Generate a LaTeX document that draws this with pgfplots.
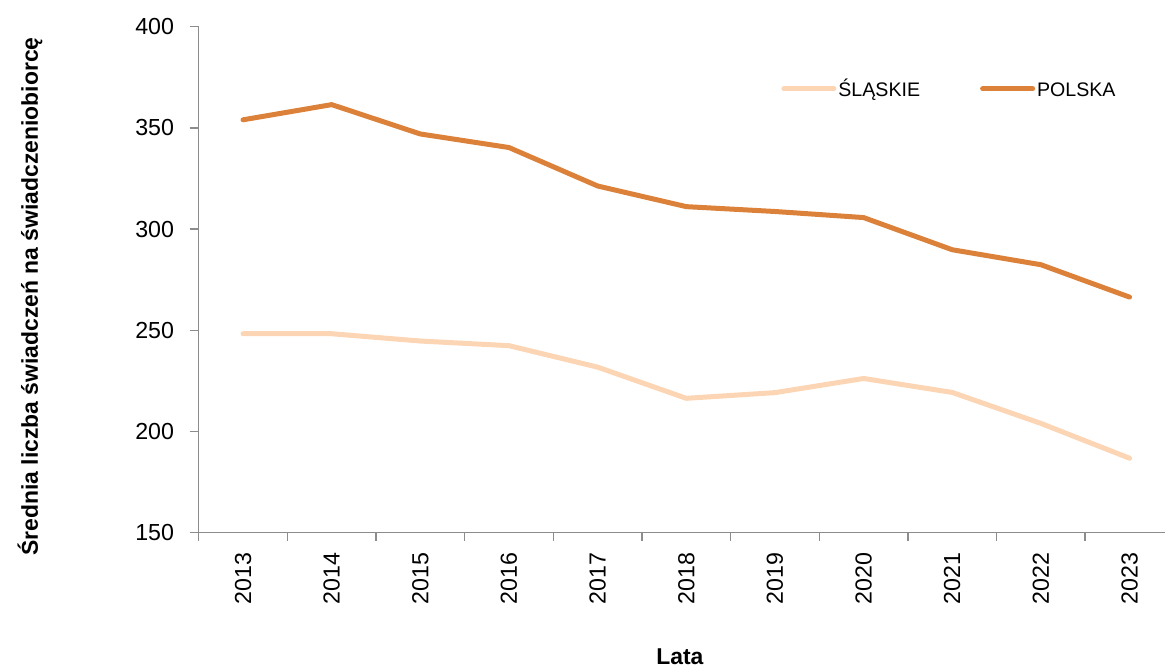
\documentclass[border=0pt]{standalone}
\usepackage{fontspec}
\setmainfont{Liberation Sans}
\usepackage{pgfplots}
\pgfplotsset{compat=1.18}
\definecolor{polska}{HTML}{DC8139}
\definecolor{slaskie}{HTML}{FCD5B4}
\definecolor{axisgray}{HTML}{8C8C8C}
\begin{document}
\begin{tikzpicture}
\useasboundingbox (0,0) rectangle (582.5pt,335pt);
\begin{axis}[
  at={(99.35pt,68.65pt)}, anchor=south west,
  scale only axis, width=483.15pt, height=253pt,
  xmin=-0.5, xmax=10.4, ymin=150, ymax=400,
  axis lines=left,
  axis line style={-, axisgray, line width=0.75pt},
  ytick={150,200,...,400},
  xtick={0,...,10},
  xticklabels={2013,2014,2015,2016,2017,2018,2019,2020,2021,2022,2023},
  minor xtick={-0.5,0.5,...,9.5},
  tick align=outside,
  major tick length=4.5pt,
  minor tick length=4pt,
  every tick/.style={axisgray, line width=0.75pt},
  major x tick style={draw=none},
  /pgf/number format/assume math mode=true,
  yticklabel style={font=\fontsize{11.6}{13}\selectfont, xshift=-4.3pt},
  xticklabel style={font=\fontsize{11.6}{13}\selectfont, rotate=90, anchor=east, xshift=-2pt},
  ylabel={\textbf{Średnia liczba świadczeń na świadczeniobiorcę}},
  ylabel style={at={(axis description cs:-0.1746,0.467)}, anchor=center, font=\fontsize{11.45}{13}\selectfont},
  xlabel={\textbf{Lata}},
  xlabel style={at={(axis description cs:0.498,-0.2457)}, anchor=center, font=\fontsize{11.45}{13}\selectfont},
  legend columns=2,
  legend image code/.code={\draw[#1] (1.25pt,0pt) -- (26.25pt,0pt);},
  legend style={draw=none, fill=none, at={(0.6026,0.877)}, anchor=west,
    inner sep=0pt, font=\fontsize{9.8}{12}\selectfont,
    nodes={inner sep=1pt, text height=1.9ex, text depth=0.5ex},
    /tikz/every even column/.append style={column sep=29pt}},
]
\addplot[slaskie, line width=2.5pt, line cap=round, line join=round] coordinates {
  (0,248.3) (1,248.3) (2,244.7) (3,242.4) (4,231.8) (5,216.4) (6,219.2) (7,226.2) (8,219.3) (9,204.0) (10,186.8)
};
\addlegendentry{ŚLĄSKIE}
\addplot[polska, line width=2.5pt, line cap=round, line join=round] coordinates {
  (0,354.0) (1,361.5) (2,347.0) (3,340.3) (4,321.3) (5,311.1) (6,308.7) (7,305.7) (8,289.8) (9,282.4) (10,266.4)
};
\addlegendentry{POLSKA}
\end{axis}
\end{tikzpicture}
\end{document}
